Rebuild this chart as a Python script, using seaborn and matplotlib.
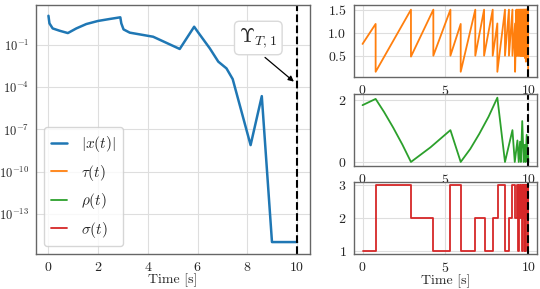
import numpy as np
import pandas as pd
import matplotlib
matplotlib.use("Agg")
import matplotlib.pyplot as plt
import seaborn as sns
from matplotlib.ticker import NullLocator

# ---- data ----
# |x(t)| : times and log10 magnitudes
x_time = [0.0, 0.04, 0.17, 0.44, 0.78, 1.12, 1.52, 1.99, 2.46, 2.89, 2.93, 3.02, 3.27,
          4.21, 5.28, 5.86, 6.02, 6.49, 6.83, 7.16, 7.41, 8.13, 8.58, 8.99, 10.0]
x_log10 = [1.08, 0.54, 0.18, 0.02, -0.15, 0.18, 0.49, 0.71, 0.85, 0.97, 0.54, 0.11, -0.12,
           -0.41, -1.28, 0.30, -0.10, -1.24, -2.18, -2.66, -3.42, -8.11, -4.63, -15.0, -15.0]
abs_x = [10.0 ** e for e in x_log10]

# tau(t) : sawtooth
tau_time = [0.0, 0.79, 0.79, 2.92, 2.92, 4.27, 4.27, 5.30, 5.30, 5.92, 5.92, 6.80, 6.80,
            7.33, 7.33, 7.85, 7.85, 8.13, 8.13, 8.59, 8.59, 8.83, 8.83, 9.04, 9.04, 9.20, 9.20,
            9.28, 9.28, 9.34, 9.34, 9.40, 9.40, 9.45, 9.45, 9.50, 9.50, 9.54, 9.54, 9.58, 9.58,
            9.62, 9.62, 9.66, 9.66, 9.70, 9.70, 9.73, 9.73, 9.76, 9.76, 9.79, 9.79, 9.82, 9.82,
            9.85, 9.85, 9.87, 9.87, 9.89, 9.89, 9.91, 9.91, 9.93, 9.93, 9.95, 9.95, 9.97, 9.97,
            9.985, 9.985]
tau_vals = [0.755, 1.19, 0.15, 1.5, 0.48, 1.5, 0.5, 1.5, 0.5, 1.19, 0.15, 1.5, 0.5,
            1.5, 0.5, 1.5, 0.5, 1.2, 0.15, 1.5, 0.5, 1.5, 0.5, 1.5, 0.5, 1.2, 0.15,
            1.5, 0.5, 1.5, 0.5, 1.5, 0.5, 1.5, 0.5, 1.5, 0.5, 1.5, 0.5, 1.5, 0.5,
            1.5, 0.5, 1.5, 0.5, 1.5, 0.5, 1.5, 0.5, 1.5, 0.5, 1.5, 0.45, 1.5, 0.5,
            1.5, 0.37, 1.5, 0.5, 1.5, 0.5, 1.5, 0.5, 1.5, 0.5, 1.5, 0.5, 1.5, 0.5,
            1.5, 0.05]

# rho(t)
rho_time = [0.0, 0.79, 1.3, 1.85, 2.4, 2.92, 4.1, 5.30, 5.92, 6.5, 7.04, 7.6, 8.13, 8.59,
            9.04, 9.18, 9.34, 9.42, 9.50, 9.55, 9.63, 9.72, 9.78, 9.83, 9.90, 9.96, 9.98, 10.0]
rho_vals = [1.82, 2.02, 1.6, 1.1, 0.56, 0.0, 0.47, 1.02, 0.0, 0.42, 0.9, 1.45, 2.06, 0.0,
            1.02, 0.0, 0.69, 0.0, 0.65, 0.0, 1.31, 0.0, 0.55, 0.0, 0.87, 0.0, 0.3, 0.0]

# sigma(t) : piecewise constant mode
sigma_time = [0.0, 0.80, 2.92, 4.27, 5.30, 5.92, 6.80, 7.40, 7.85, 8.15, 8.59, 8.83, 9.04,
              9.20, 9.30, 9.36, 9.44, 9.50, 9.55, 9.60, 9.66, 9.70, 9.74, 9.78, 9.82, 9.86,
              9.89, 9.92, 9.95, 9.97, 10.0]
sigma_vals = [1, 3, 2, 1, 3, 1, 2, 1, 2, 3, 1, 2, 3, 2, 3, 1, 3, 2, 3, 1, 3, 2, 3, 1, 3, 2,
              3, 1, 3, 2, 3]

T_end = 10.0
labels = [r"$|x(t)|$", r"$\tau(t)$", r"$\rho(t)$", r"$\sigma(t)$"]
colors = ["#1f77b4", "#ff7f0e", "#2ca02c", "#d62728"]
annot_text = r"$\Upsilon_{T,1}$"

# ---- style ----
sns.set_style("whitegrid", {"axes.edgecolor": "0.4", "grid.color": "0.87"})
plt.rcParams.update({
    "font.family": "serif",
    "font.serif": ["cmr10"],
    "mathtext.fontset": "cm",
    "axes.formatter.use_mathtext": True,
    "axes.unicode_minus": True,
    "font.size": 10,
    "xtick.labelsize": 10,
    "ytick.labelsize": 10,
    "axes.labelsize": 10,
    "axes.linewidth": 1.0,
})

fig = plt.figure(figsize=(5.4, 2.89), dpi=100)
axL = fig.add_axes([0.0667, 0.121, 0.5065, 0.8605])
axT = fig.add_axes([0.656, 0.7325, 0.3378, 0.25])
axM = fig.add_axes([0.656, 0.425, 0.3378, 0.25])
axB = fig.add_axes([0.656, 0.121, 0.3378, 0.25])

sns.lineplot(x=x_time, y=abs_x, ax=axL, color=colors[0], lw=1.8, sort=False,
             estimator=None, label=labels[0])
axL.set_yscale("log")
axL.set_ylim(10 ** -15.85, 10 ** 1.82)
axL.set_yticks([1e-1, 1e-4, 1e-7, 1e-10, 1e-13])
axL.yaxis.set_minor_locator(NullLocator())
axL.set_xlim(-0.5, 10.5)
axL.set_xticks([0, 2, 4, 6, 8, 10])
axL.set_xlabel("Time [s]", labelpad=-0.5)
axL.set_ylabel("")
axL.tick_params(axis="y", labelsize=9, pad=1.5)

sns.lineplot(x=tau_time, y=tau_vals, ax=axT, color=colors[1], lw=1.3, sort=False,
             estimator=None, label=labels[1])
axT.set_ylim(0.03, 1.60)
axT.set_yticks([0.5, 1.0, 1.5])

sns.lineplot(x=rho_time, y=rho_vals, ax=axM, color=colors[2], lw=1.3, sort=False,
             estimator=None, label=labels[2])
axM.set_ylim(-0.135, 2.18)
axM.set_yticks([0, 2])

sns.lineplot(x=sigma_time, y=sigma_vals, ax=axB, color=colors[3], lw=1.3, sort=False,
             estimator=None, drawstyle="steps-post", label=labels[3])
axB.set_ylim(0.9, 3.1)
axB.set_yticks([1, 2, 3])
axB.set_xlabel("Time [s]", labelpad=-0.5)

for ax in (axT, axM, axB):
    ax.set_xlim(-0.5, 10.5)
    ax.set_xticks([0, 5, 10])
    if ax is not axB:
        ax.set_xlabel("")
    ax.set_ylabel("")
    ax.get_legend().remove()
    ax.tick_params(axis="y", pad=2)

for ax in (axL, axT, axM, axB):
    ax.axvline(T_end, color="black", ls="--", lw=1.5)
    ax.tick_params(axis="x", pad=1.5)

handles = []
for ax in (axL, axT, axM, axB):
    h, l = ax.get_legend_handles_labels()
    handles.append(h[0])
axL.legend(handles, labels, loc="lower left", fontsize=11, frameon=True,
           handlelength=1.1, handletextpad=0.9, labelspacing=0.55, borderpad=0.45)

axL.text(8.44, 10 ** -0.5, annot_text, ha="center", va="center", fontsize=14,
         bbox=dict(boxstyle="round,pad=0.25", fc="white", ec="0.85"))
axL.annotate("", xy=(9.87, 10 ** -3.6), xytext=(8.71, 10 ** -1.88),
             arrowprops=dict(arrowstyle="-|>", color="black", lw=0.9, mutation_scale=8,
                             shrinkA=0, shrinkB=0))

fig.savefig("out.png", dpi=100)
